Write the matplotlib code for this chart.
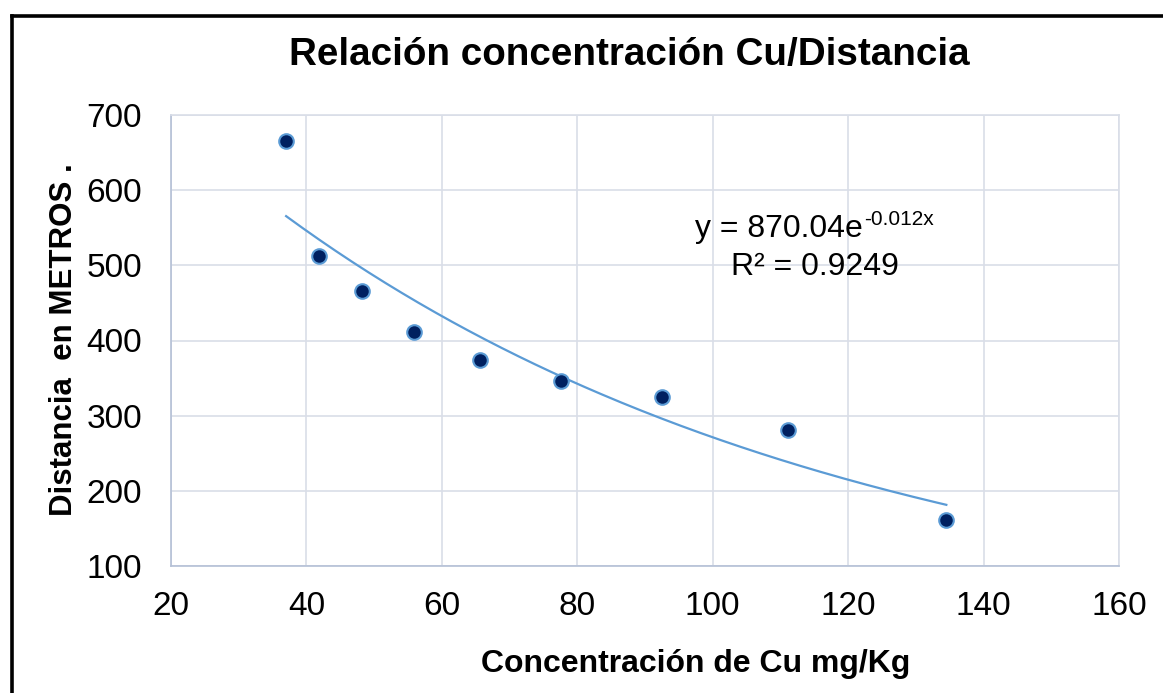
import numpy as np
import matplotlib.pyplot as plt
from matplotlib.lines import Line2D

plt.rcParams['font.family'] = ['Liberation Sans', 'DejaVu Sans']

# Data
cu_mg_kg = [37.0, 41.9, 48.2, 55.9, 65.6, 77.6, 92.5, 111.1, 134.5]
distancia_m = [665, 512, 466, 411, 374, 346, 325, 281, 161]
x_ticks = [20, 40, 60, 80, 100, 120, 140, 160]
y_ticks = [100, 200, 300, 400, 500, 600, 700]

title = "Relación concentración Cu/Distancia"
x_label = "Concentración de Cu mg/Kg"
y_label = "Distancia  en METROS ."
eq_base = "y = 870.04e"
eq_exp = "-0.012x"
r2_text = "R² = 0.9249"

W, H = 1163, 693
fig = plt.figure(figsize=(W / 100, H / 100), dpi=100)
ax = fig.add_axes([171 / W, 1 - 566 / H, (1119 - 171) / W, (566 - 115) / H])

grid_col = '#D9DEE8'
ax.set_xlim(20, 160)
ax.set_ylim(100, 700)
ax.set_xticks(x_ticks)
ax.set_yticks(y_ticks)
ax.grid(True, color=grid_col, linewidth=1.2)
ax.set_axisbelow(True)
ax.tick_params(axis='y', length=0, labelsize=24, pad=21)
ax.tick_params(axis='x', length=0, labelsize=24, pad=18)
for side in ['top', 'right']:
    ax.spines[side].set_color(grid_col)
    ax.spines[side].set_linewidth(1.2)
for side in ['left', 'bottom']:
    ax.spines[side].set_color('#B4C0D6')
    ax.spines[side].set_linewidth(1.2)

# exponential trendline fitted on the data
xs = np.array(cu_mg_kg)
b, ln_a = np.polyfit(xs, np.log(distancia_m), 1)
xx = np.linspace(xs.min(), xs.max(), 200)
ax.plot(xx, np.exp(ln_a) * np.exp(b * xx), color='#5B9BD5', linewidth=1.6, zorder=2)

ax.plot(cu_mg_kg, distancia_m, 'o', markersize=10.5, markerfacecolor='#002060',
        markeredgecolor='#5B9BD5', markeredgewidth=1.5, zorder=3)

# trendline equation, exponent drawn as a raised smaller text
t = fig.text(695 / W, 1 - 237 / H, eq_base, fontsize=23, ha='left', va='baseline')
ax.annotate(eq_exp, xy=(1, 1), xycoords=t, xytext=(1, 3), textcoords='offset points',
            fontsize=15, ha='left', va='top')
fig.text(815 / W, 1 - 275 / H, r2_text, fontsize=23, ha='center', va='baseline')

fig.text(629 / W, 1 - 55 / H, title, fontsize=27.8, fontweight='bold', ha='center', va='center')
fig.text(696 / W, 1 - 664 / H, x_label, fontsize=23, fontweight='bold', ha='center', va='center')
fig.text(64 / W, 1 - 340 / H, y_label, fontsize=22.5, fontweight='bold', ha='center', va='center',
         rotation=90)

# black frame (left and top edges visible)
fig.add_artist(Line2D([12 / W, 12 / W], [0, 1 - 16 / H], color='black', linewidth=2.6,
                      transform=fig.transFigure, solid_capstyle='projecting'))
fig.add_artist(Line2D([12 / W, 1], [1 - 16 / H, 1 - 16 / H], color='black', linewidth=2.6,
                      transform=fig.transFigure, solid_capstyle='projecting'))

fig.savefig('out.png', dpi=100)
